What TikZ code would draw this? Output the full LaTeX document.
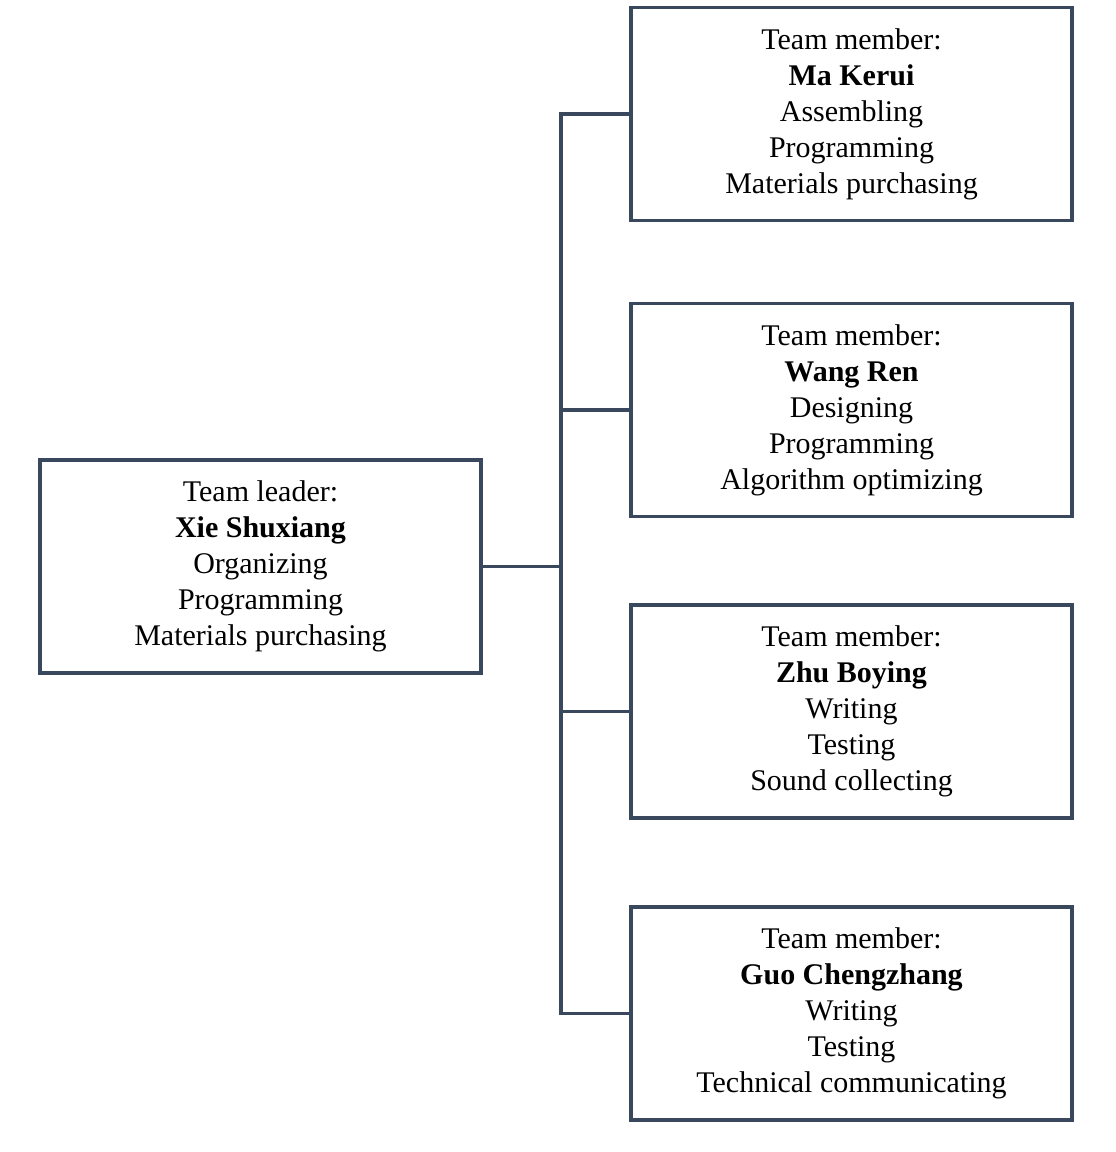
\documentclass[tikz,border=0pt]{standalone}
\usepackage{fontspec}
\setmainfont{Liberation Serif}
\definecolor{linec}{RGB}{58,72,94}
\begin{document}
\begin{tikzpicture}[x=0.75pt,y=-0.75pt,
  box/.style={draw=linec,line width=2.5pt,fill=white,minimum width=330.75pt,minimum height=159.75pt,
    align=center,inner sep=0pt,font=\fontsize{22.5}{27}\selectfont},
  conn/.style={draw=linec,line width=2.4pt}]
\fill[white] (0,0) rectangle (1116,1152);
\useasboundingbox (0,0) rectangle (1116,1152);
\node[box] (lead) at (260.5,566.5) {Team leader:\\\textbf{Xie Shuxiang}\\Organizing\\Programming\\Materials purchasing};
\node[box] (m1) at (851.5,114) {Team member:\\\textbf{Ma Kerui}\\Assembling\\Programming\\Materials purchasing};
\node[box] (m2) at (851.5,410) {Team member:\\\textbf{Wang Ren}\\Designing\\Programming\\Algorithm optimizing};
\node[box] (m3) at (851.5,711.5) {Team member:\\\textbf{Zhu Boying}\\Writing\\Testing\\Sound collecting};
\node[box] (m4) at (851.5,1013.5) {Team member:\\\textbf{Guo Chengzhang}\\Writing\\Testing\\Technical communicating};
\coordinate (j) at (561,566.5);
\draw[conn] (lead.east) -- (j);
\draw[conn] (m1.west) -- (m1.west -| j) -- (m4.west -| j) -- (m4.west);
\draw[conn] (m2.west) -- (m2.west -| j);
\draw[conn] (m3.west) -- (m3.west -| j);
\end{tikzpicture}
\end{document}
